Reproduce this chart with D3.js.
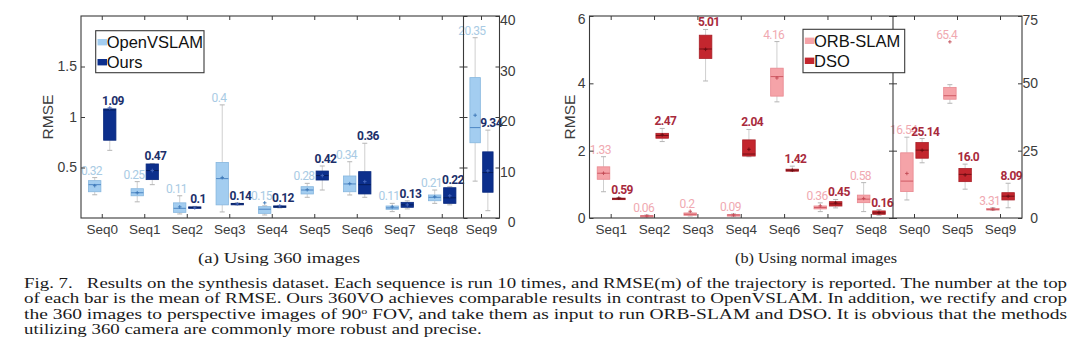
<!DOCTYPE html>
<html><head><meta charset="utf-8">
<script src="https://cdn.jsdelivr.net/npm/d3@7"></script>
<style>body{margin:0;background:#fff}svg{display:block}</style>
</head><body>
<svg id="c" width="1080" height="359"></svg>
<script>
// ---------------- DATA ----------------
// (a) Using 360 images
const catsA1 = ["Seq0","Seq1","Seq2","Seq3","Seq4","Seq5","Seq6","Seq7","Seq8"];
const catsA2 = ["Seq9"];
const ticksA1 = [0.5, 1, 1.5];
const ticksA2 = [0, 10, 20, 30, 40];
// box stats per sequence: [lowWhisker, q1, median, q3, highWhisker]
const openvslamStats = [
  [0.23,0.26,0.33,0.37,0.40],[0.16,0.22,0.25,0.29,0.36],[0.04,0.056,0.096,0.15,0.22],
  [0.06,0.13,0.39,0.55,1.12],[0.03,0.046,0.087,0.112,0.12],[0.205,0.238,0.277,0.31,0.343],
  [0.228,0.26,0.337,0.416,0.557],[0.063,0.086,0.10,0.119,0.145],[0.145,0.171,0.205,0.228,0.277],
  [7.3,14.9,17.9,27.8,35.7]];
const openvslamMean = [0.32,0.25,0.11,0.40,0.15,0.28,0.34,0.11,0.21,20.35];
const openvslamLabel = ["0.32","0.25","0.11","0.4","0.15","0.28","0.34","0.11","0.21","20.35"];
const oursStats = [
  [0.67,0.77,1.07,1.08,1.09],[0.33,0.38,0.47,0.535,0.54],[0.095,0.10,0.105,0.11,0.115],
  [0.13,0.135,0.14,0.145,0.15],[0.10,0.105,0.112,0.12,0.125],[0.277,0.376,0.42,0.465,0.515],
  [0.205,0.238,0.33,0.459,0.74],[0.09,0.106,0.13,0.155,0.17],[0.13,0.145,0.20,0.30,0.31],
  [1.45,5.1,9.0,13.1,17.4]];
const oursMean = [1.09,0.47,0.10,0.14,0.12,0.42,0.36,0.13,0.22,9.34];
const oursLabel = ["1.09","0.47","0.1","0.14","0.12","0.42","0.36","0.13","0.22","9.34"];

// (b) Using normal images
const catsB1 = ["Seq1","Seq2","Seq3","Seq4","Seq6","Seq7","Seq8"];
const catsB2 = ["Seq0","Seq5","Seq9"];
const ticksB1 = [0, 2, 4, 6];
const ticksB2 = [0, 25, 50, 75];
const orbStats = [
  [0.78,1.15,1.33,1.52,1.82],[0.03,0.045,0.06,0.07,0.09],[0.06,0.08,0.11,0.15,0.15],
  [0.05,0.07,0.09,0.10,0.12],[3.45,3.62,4.2,4.45,5.24],[0.19,0.27,0.31,0.357,0.45],
  [0.19,0.455,0.56,0.68,1.05],
  [6.7,9.8,13.7,24.2,30],[42.6,44.1,45.4,48.5,49.5],[2.8,3.0,3.2,3.5,3.8]];
const orbMean = [1.33,0.06,0.2,0.09,4.16,0.36,0.58,16.54,65.4,3.31];
const orbLabel = ["1.33","0.06","0.2","0.09","4.16","0.36","0.58","16.54","65.4","3.31"];
const dsoStats = [
  [0.55,0.56,0.57,0.59,0.61],[2.27,2.37,2.45,2.515,2.66],[4.07,4.74,5.02,5.43,5.6],
  [1.82,1.84,1.9,2.32,2.63],[1.38,1.39,1.42,1.45,1.54],[0.30,0.356,0.42,0.485,0.55],
  [0.08,0.11,0.15,0.21,0.25],
  [20.5,22.2,25.2,28,29.5],[10.7,13.5,16.2,18.4,20],[3.8,6.7,8.1,9.4,12.9]];
const dsoMean = [0.59,2.47,5.01,2.04,1.42,0.45,0.16,25.14,16.0,8.09];
const dsoLabel = ["0.59","2.47","5.01","2.04","1.42","0.45","0.16","25.14","16.0","8.09"];

const legendA = ["OpenVSLAM","Ours"];
const legendB = ["ORB-SLAM","DSO"];

const captionLines = [
  "Fig. 7.   Results on the synthesis dataset. Each sequence is run 10 times, and RMSE(m) of the trajectory is reported. The number at the top",
  "of each bar is the mean of RMSE. Ours 360VO achieves comparable results in contrast to OpenVSLAM. In addition, we rectify and crop",
  ["the 360 images to perspective images of 90", "o", " FOV, and take them as input to run ORB-SLAM and DSO. It is obvious that the methods"],
  "utilizing 360 camera are commonly more robust and precise."
];

// ---------------- DRAW ----------------
const svg = d3.select("#c");
svg.append("rect").attr("width",1080).attr("height",359).attr("fill","#fff");
const YT = 16, YB = 218;
const SANS = "'Liberation Sans', Arial, sans-serif";
const LBL = "Roboto, 'Open Sans', sans-serif";
const SERIF = "'Liberation Serif', 'Times New Roman', serif";

function drawPanel(p){
  const g = svg.append("g");
  const subs = [
    {cats:p.cats1, x:[p.x0,p.xDiv], ymax:p.ymax1},
    {cats:p.cats2, x:[p.xDiv,p.x1], ymax:p.ymax2}
  ];
  subs.forEach(s=>{
    s.xs = d3.scaleBand().domain(s.cats).range(s.x);
    s.ys = d3.scaleLinear().domain([0,s.ymax]).range([YB,YT]);
  });
  const marks = g.append("g");
  const labels = g.append("g");
  p.series.forEach(se=>{
    let idx = 0;
    subs.forEach(s=>{
      const bw = s.xs.bandwidth();
      s.cats.forEach(c=>{
        const st = se.stats[idx], mn = se.mean[idx], lb = se.label[idx];
        idx++;
        const cx = s.xs(c) + bw/2 + se.pos*0.177*bw;
        const w = 0.29*bw, y = s.ys;
        // whiskers
        marks.append("line").attr("x1",cx).attr("x2",cx).attr("y1",y(st[4])).attr("y2",y(st[3]))
          .attr("stroke","#cfcfcf").attr("stroke-width",1);
        marks.append("line").attr("x1",cx).attr("x2",cx).attr("y1",y(st[1])).attr("y2",y(st[0]))
          .attr("stroke","#cfcfcf").attr("stroke-width",1);
        [st[0],st[4]].forEach(v=>{
          marks.append("line").attr("x1",cx-2.5).attr("x2",cx+2.5).attr("y1",y(v)).attr("y2",y(v))
            .attr("stroke","#b5b5b5").attr("stroke-width",1);
        });
        // box
        const yt = y(st[3]), yb = y(st[1]);
        marks.append("rect").attr("x",cx-w/2).attr("y",yt).attr("width",w).attr("height",Math.max(yb-yt,1.5))
          .attr("fill",se.fill).attr("stroke",se.stroke).attr("stroke-width",0.8);
        marks.append("line").attr("x1",cx-w/2).attr("x2",cx+w/2).attr("y1",y(st[2])).attr("y2",y(st[2]))
          .attr("stroke",se.med).attr("stroke-width",1);
        // mean marker
        const ym = y(mn);
        marks.append("path").attr("d",`M${cx-1.8},${ym}H${cx+1.8}M${cx},${ym-1.8}V${ym+1.8}`)
          .attr("stroke",se.meanc).attr("stroke-width",0.9);
        // mean label
        labels.append("text").attr("x",cx + se.pos*3.2).attr("y",Math.min(y(st[4]),ym)-3)
          .attr("text-anchor","middle").attr("font-family",LBL).attr("font-size",12)
          .attr("font-weight",se.weight).attr("letter-spacing",-0.6)
          .attr("fill",se.txt).text(lb);
      });
    });
  });
  // frame
  const fr = g.append("g").attr("stroke","#3a3a3a").attr("fill","none");
  fr.append("rect").attr("x",p.x0).attr("y",YT).attr("width",p.x1-p.x0).attr("height",YB-YT).attr("stroke-width",1.1);
  fr.append("line").attr("x1",p.xDiv).attr("x2",p.xDiv).attr("y1",YT).attr("y2",YB).attr("stroke-width",1.1);

  const styleAxis = (sel, size)=>{
    sel.select(".domain").remove();
    sel.selectAll(".tick line").attr("stroke","#3a3a3a");
    sel.selectAll("text").attr("font-family",SANS).attr("font-size",size||13.5).attr("fill","#3c3c3c");
  };
  const s1 = subs[0], s2 = subs[1];
  const la = g.append("g").attr("transform",`translate(${p.x0},0)`)
    .call(d3.axisLeft(s1.ys).tickValues(p.ticks1).tickSize(-4).tickPadding(4).tickFormat(d3.format("~g")));
  styleAxis(la, 14);
  la.selectAll(".tick").filter(d=>d===p.ymax1).select("text").attr("dy","0.55em");
  styleAxis(g.append("g").attr("transform",`translate(${p.xDiv},0)`)
    .call(d3.axisRight(s1.ys).tickValues(p.ticks1).tickSize(-4).tickFormat("")));
  styleAxis(g.append("g").attr("transform",`translate(${p.xDiv},0)`)
    .call(d3.axisLeft(s2.ys).tickValues(p.ticks2).tickSize(-4).tickFormat("")));
  const ra = g.append("g").attr("transform",`translate(${p.x1},0)`)
    .call(d3.axisRight(s2.ys).tickValues(p.ticks2).tickSize(-4).tickFormat(d3.format("~g")));
  styleAxis(ra, 14);
  ra.selectAll("text").attr("text-anchor","end").attr("x",16).attr("dy",p.rDy);
  ra.selectAll(".tick").filter(d=>d===p.ymax2).select("text").attr("dy","0.62em");
  [s1,s2].forEach(s=>{
    styleAxis(g.append("g").attr("transform",`translate(0,${YB})`)
      .call(d3.axisBottom(s.xs).tickSize(-4).tickPadding(6)), 13.5);
    styleAxis(g.append("g").attr("transform",`translate(0,${YT})`)
      .call(d3.axisTop(s.xs).tickSize(-4).tickFormat("")));
  });
  // y title
  g.append("text").attr("transform",`translate(${p.titleX},117) rotate(-90)`)
    .attr("text-anchor","middle").attr("font-family",SANS).attr("font-size",15.5).attr("fill","#3c3c3c").text("RMSE");
  // legend
  const L = p.legend;
  const lg = g.append("g");
  lg.append("rect").attr("x",L.x).attr("y",L.y).attr("width",L.w).attr("height",L.h)
    .attr("fill","#fff").attr("stroke","#3a3a3a").attr("stroke-width",1.1);
  L.names.forEach((n,i)=>{
    const se = p.series[i];
    const cy = L.y + 11.5 + i*20;
    lg.append("rect").attr("x",L.x+1.8).attr("y",cy-3.2).attr("width",9.5).attr("height",6.4).attr("fill",se.fill);
    lg.append("text").attr("x",L.x+11).attr("y",cy).attr("dy","0.36em").attr("font-family",SANS)
      .attr("font-size",16.5).attr("fill","#111").text(n);
  });
  // sub-caption
  svg.append("text").attr("x",p.capX).attr("y",263).attr("text-anchor","middle")
    .attr("font-family",SERIF).attr("font-size",15.5)
    .attr("textLength",p.capW).attr("lengthAdjust","spacingAndGlyphs")
    .attr("fill","#222").text(p.caption);
}

drawPanel({
  x0:81, xDiv:463.5, x1:499.5, cats1:catsA1, cats2:catsA2, ymax1:2, ymax2:40,
  ticks1:ticksA1, ticks2:ticksA2, titleX:53, rDy:"0.62em",
  series:[
    {stats:openvslamStats, mean:openvslamMean, label:openvslamLabel, pos:-1,
     fill:"#a3cdf0", stroke:"#86b6de", med:"#4d86c4", meanc:"#3b76b6", txt:"#a9cbe4", weight:400},
    {stats:oursStats, mean:oursMean, label:oursLabel, pos:1,
     fill:"#0c2f8c", stroke:"#0a2a7e", med:"#061d5c", meanc:"#4a6bc0", txt:"#1c2f6a", weight:700}
  ],
  legend:{x:95.7, y:30.7, w:108.3, h:42, names:legendA},
  caption:"(a) Using 360 images", capX:279, capW:162
});
drawPanel({
  x0:589.5, xDiv:893, x1:1022, cats1:catsB1, cats2:catsB2, ymax1:6, ymax2:75,
  ticks1:ticksB1, ticks2:ticksB2, titleX:575, rDy:"0.32em",
  series:[
    {stats:orbStats, mean:orbMean, label:orbLabel, pos:-1,
     fill:"#f5a3a8", stroke:"#e88890", med:"#cf5a64", meanc:"#c24a55", txt:"#f0a9b1", weight:400},
    {stats:dsoStats, mean:dsoMean, label:dsoLabel, pos:1,
     fill:"#c3262e", stroke:"#a81e26", med:"#741016", meanc:"#6a0c12", txt:"#a82a3c", weight:700}
  ],
  legend:{x:803, y:29.3, w:101.7, h:43.4, names:legendB},
  caption:"(b) Using normal images", capX:816, capW:162
});

// figure caption
const capY = [287.5, 303, 318.5, 334];
captionLines.forEach((ln,i)=>{
  const t = svg.append("text").attr("x",24).attr("y",capY[i])
    .attr("font-family",SERIF).attr("font-size",13.8)
    .attr("fill","#1a1a1a").style("white-space","pre")
    .attr("textLength", i<3 ? 1043 : 457.7).attr("lengthAdjust","spacingAndGlyphs");
  if (Array.isArray(ln)) {
    t.append("tspan").text(ln[0]);
    t.append("tspan").attr("dy",-5).attr("font-size",8.5).text(ln[1]);
    t.append("tspan").attr("dy",5).text(ln[2]);
  } else t.text(ln);
});
</script>
</body></html>
